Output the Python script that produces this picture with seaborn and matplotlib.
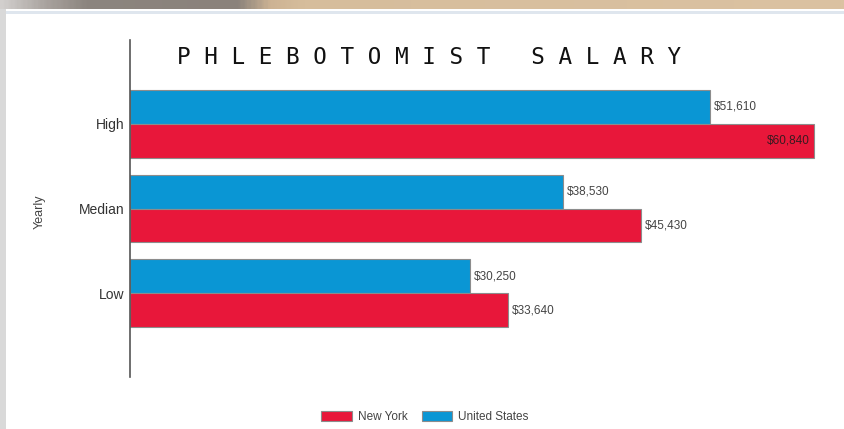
import matplotlib
matplotlib.use("Agg")
import matplotlib.pyplot as plt
from matplotlib.patches import Rectangle, Patch
import matplotlib.colors as mcolors
import seaborn as sns
import numpy as np
import pandas as pd

# ---- data ----
levels = ['High', 'Median', 'Low']
us_salary = [51610, 38530, 30250]
ny_salary = [60840, 45430, 33640]
regions = ['United States', 'New York']
legend_order = ['New York', 'United States']
colors = {'New York': '#e8173a', 'United States': '#0a96d4'}

df = pd.DataFrame({
    'level': levels * 2,
    'salary': us_salary + ny_salary,
    'region': ['United States'] * 3 + ['New York'] * 3,
})

# ---- figure ----
W, H = 844, 429
fig = plt.figure(figsize=(W / 100, H / 100), dpi=100)
fig.patch.set_facecolor('white')

# page decoration: banner photo strip, divider line, left grey margin
banner = fig.add_axes([0, 1 - 9 / H, 1, 9 / H])
grad = mcolors.LinearSegmentedColormap.from_list(
    'banner', [(0.0, '#d2cfcd'), (0.05, '#aaa4a0'), (0.1, '#8c857f'),
               (0.28, '#8a827b'), (0.32, '#cdb394'), (0.36, '#d6bd9c'), (1.0, '#dbc2a2')])
banner.imshow(np.linspace(0, 1, 400)[None, :], aspect='auto', cmap=grad, extent=[0, 1, 0, 1])
banner.set_axis_off()
fig.add_artist(Rectangle((0, 0), 6 / W, 1 - 9 / H, transform=fig.transFigure,
                         facecolor='#d9d9d9', edgecolor='none'))
fig.add_artist(Rectangle((6 / W, 1 - 14 / H), 1, 3 / H, transform=fig.transFigure,
                         facecolor='#dfe6ee', edgecolor='none'))

ax = fig.add_axes([130 / W, 1 - 377 / H, 710 / W, 337 / H])
sns.barplot(data=df, x='salary', y='level', hue='region', hue_order=regions,
            order=levels, palette=colors, orient='h', width=0.8, saturation=1,
            edgecolor='#8c8c8c', linewidth=0.8, legend=False, ax=ax)

xmax = 63180
ax.set_xlim(0, xmax)
ax.set_ylim(2.99, -0.99)

# value labels
for container in ax.containers:
    for bar in container:
        w = bar.get_width()
        y = bar.get_y() + bar.get_height() / 2
        txt = '${:,.0f}'.format(w)
        if w > 0.93 * xmax:
            ax.annotate(txt, (w, y), xytext=(-3, 0), textcoords='offset points',
                        ha='right', va='center', fontsize=8.5, color='#3a1a20',
                        family='Liberation Sans')
        else:
            ax.annotate(txt, (w, y), xytext=(3, 0), textcoords='offset points',
                        ha='left', va='center', fontsize=8.5, color='#444444',
                        family='Liberation Sans')

for s in ['top', 'right', 'bottom']:
    ax.spines[s].set_visible(False)
ax.spines['left'].set_color('#555555')
ax.spines['left'].set_linewidth(1.2)
ax.set_xticks([])
ax.tick_params(axis='y', length=0, pad=4, labelsize=10, labelcolor='#333333')
for lbl in ax.get_yticklabels():
    lbl.set_family('Liberation Sans')
ax.set_xlabel('')
ax.set_ylabel('')
ax.patch.set_alpha(0)

fig.text(40 / W, 1 - 212 / H, 'Yearly', rotation=90, ha='center', va='center',
         fontsize=9, color='#444444', family='Liberation Sans')

# title
fig.text(429 / W, 1 - 58 / H, 'P H L E B O T O M I S T   S A L A R Y',
         ha='center', va='center', fontsize=16.3, color='#111111',
         family='DejaVu Sans Mono')

# legend
handles = [Patch(facecolor=colors[r], edgecolor='#8c8c8c', linewidth=0.8, label=r)
           for r in legend_order]
fig.legend(handles=handles, loc='center', bbox_to_anchor=(425 / W, 1 - 417 / H),
           ncol=2, frameon=False, handlelength=2.6, handleheight=0.9,
           columnspacing=1.2, handletextpad=0.5,
           prop={'family': 'Liberation Sans', 'size': 8.5}, labelcolor='#444444')

fig.savefig('out.png', dpi=100)
